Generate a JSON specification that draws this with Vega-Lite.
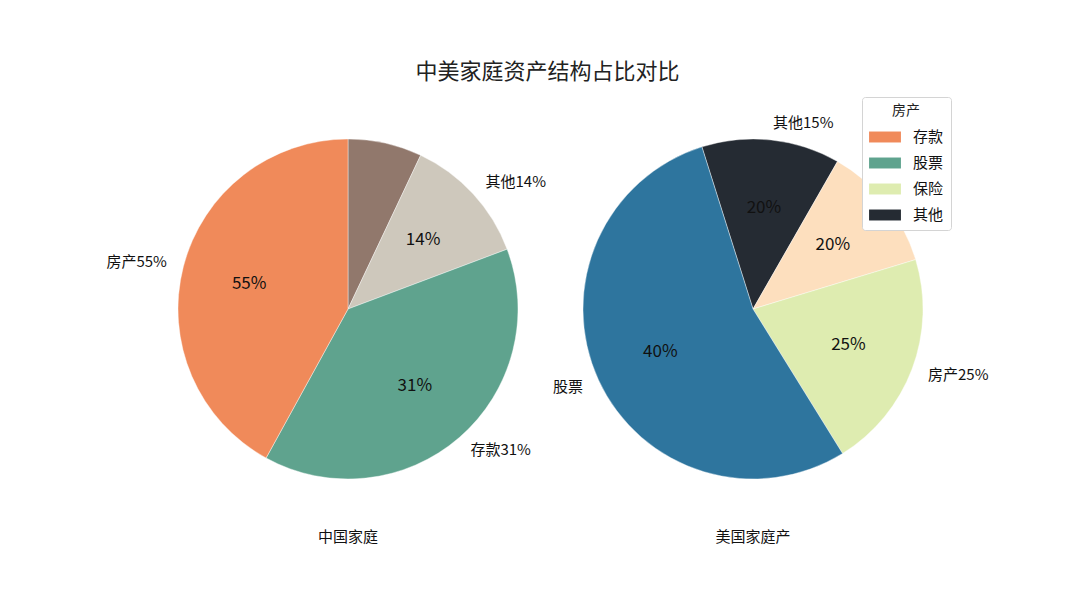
{
  "$schema": "https://vega.github.io/schema/vega-lite/v6.json",
  "padding": {"left": 106, "top": 60, "right": 5, "bottom": 5},
  "background": "white",
  "title": {
    "text": "中美家庭资产结构占比对比",
    "fontSize": 22,
    "fontWeight": "normal",
    "color": "#222222",
    "anchor": "middle",
    "offset": 13
  },
  "data": {
    "values": [
      {"pie": "中国家庭", "idx": 1, "colorKey": "中·褐", "share": 25.3, "inner": "", "outer": ""},
      {"pie": "中国家庭", "idx": 2, "colorKey": "中·米", "share": 44.1, "inner": "14%", "outer": "其他14%"},
      {"pie": "中国家庭", "idx": 3, "colorKey": "股票", "share": 139.4, "inner": "31%", "outer": "存款31%"},
      {"pie": "中国家庭", "idx": 4, "colorKey": "存款", "share": 151.2, "inner": "55%", "outer": "房产55%"},
      {"pie": "美国家庭产", "idx": 1, "colorKey": "其他", "share": 47.3, "inner": "20%", "outer": "其他15%"},
      {"pie": "美国家庭产", "idx": 2, "colorKey": "美·桃", "share": 43.3, "inner": "20%", "outer": ""},
      {"pie": "美国家庭产", "idx": 3, "colorKey": "保险", "share": 75.1, "inner": "25%", "outer": "房产25%"},
      {"pie": "美国家庭产", "idx": 4, "colorKey": "美·蓝", "share": 194.3, "inner": "40%", "outer": "股票"}
    ]
  },
  "spacing": 5,
  "hconcat": [
    {
      "width": 400,
      "height": 400,
      "title": {"text": "中国家庭", "orient": "bottom", "fontSize": 15, "fontWeight": "normal", "color": "#111111", "offset": 21},
      "transform": [{"filter": "datum.pie == '中国家庭'"}],
      "encoding": {
        "theta": {"field": "share", "type": "quantitative", "stack": true, "scale": {"range": [0, 6.2832]}},
        "order": {"field": "idx", "type": "quantitative"}
      },
      "layer": [
        {
          "mark": {"type": "arc", "radius": 170, "stroke": "white", "strokeWidth": 0.4},
          "encoding": {
            "color": {
              "field": "colorKey",
              "type": "nominal",
              "title": "房产",
              "scale": {
                "domain": ["存款", "股票", "保险", "其他", "中·褐", "中·米", "美·桃", "美·蓝"],
                "range": ["#F08A5A", "#5FA38E", "#DEECB0", "#252B33", "#91786C", "#CEC8BC", "#FDDFBE", "#2E759E"]
              },
              "legend": {"values": ["存款", "股票", "保险", "其他"]}
            }
          }
        },
        {
          "mark": {"type": "text", "radius": 102, "fontSize": 17, "baseline": "middle"},
          "encoding": {"text": {"field": "inner"}, "color": {"value": "#111111"}}
        },
        {
          "mark": {
            "type": "text",
            "radius": 187,
            "fontSize": 15,
            "baseline": "middle",
            "align": {"expr": "(datum.share_start + datum.share_end) / 2 > 180 ? 'right' : 'left'"}
          },
          "encoding": {"text": {"field": "outer"}, "color": {"value": "#111111"}}
        }
      ]
    },
    {
      "width": 400,
      "height": 400,
      "title": {"text": "美国家庭产", "orient": "bottom", "fontSize": 15, "fontWeight": "normal", "color": "#111111", "offset": 21},
      "transform": [{"filter": "datum.pie == '美国家庭产'"}],
      "encoding": {
        "theta": {"field": "share", "type": "quantitative", "stack": true, "scale": {"range": [-0.3054, 5.9778]}},
        "order": {"field": "idx", "type": "quantitative"}
      },
      "layer": [
        {
          "mark": {"type": "arc", "radius": 170, "stroke": "white", "strokeWidth": 0.4},
          "encoding": {
            "color": {"field": "colorKey", "type": "nominal", "title": "房产"}
          }
        },
        {
          "mark": {"type": "text", "radius": 102, "fontSize": 17, "baseline": "middle"},
          "encoding": {"text": {"field": "inner"}, "color": {"value": "#111111"}}
        },
        {
          "mark": {
            "type": "text",
            "radius": 187,
            "fontSize": 15,
            "baseline": "middle",
            "align": {"expr": "(datum.share_start + datum.share_end) / 2 > 180 ? 'right' : 'left'"}
          },
          "encoding": {"text": {"field": "outer"}, "color": {"value": "#111111"}}
        }
      ]
    }
  ],
  "resolve": {"scale": {"theta": "independent"}},
  "config": {
    "font": "Noto Sans CJK SC",
    "view": {"stroke": null},
    "legend": {
      "orient": "none",
      "legendX": 714,
      "legendY": -12,
      "padding": 7,
      "fillColor": "white",
      "strokeColor": "#d4d4d4",
      "cornerRadius": 3,
      "titleFontSize": 14,
      "titleFontWeight": "normal",
      "titleColor": "#222222",
      "titleAnchor": "middle",
      "titlePadding": 6,
      "labelFontSize": 15,
      "labelColor": "#111111",
      "labelOffset": 15,
      "symbolOffset": 3,
      "symbolType": "M-1.25,-0.43H1.25V0.43H-1.25Z",
      "symbolSize": 650,
      "symbolStrokeWidth": 0,
      "symbolOpacity": 1,
      "rowPadding": 5
    }
  }
}
